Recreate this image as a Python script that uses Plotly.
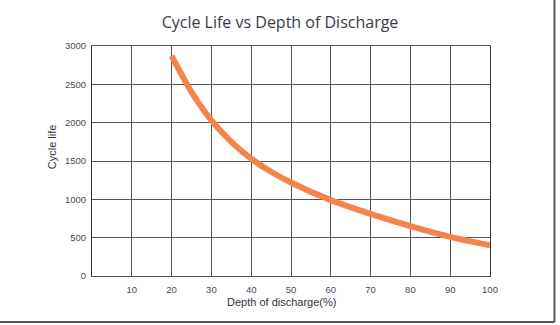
import plotly.graph_objects as go

dod = [20, 25, 30, 35, 40, 45, 50, 60, 70, 80, 90, 100]
cycles = [2870, 2400, 2030, 1750, 1530, 1360, 1220, 990, 810, 650, 510, 400]
x_ticks = [10, 20, 30, 40, 50, 60, 70, 80, 90, 100]
y_ticks = [0, 500, 1000, 1500, 2000, 2500, 3000]

fig = go.Figure()
fig.add_trace(go.Scatter(x=dod, y=cycles, mode="lines",
                         line=dict(color="#F5844A", width=6, shape="spline", smoothing=0.8),
                         hoverinfo="skip"))

axis_font = dict(family="Liberation Sans", size=9.5, color="#4a4a5a")
title_font = dict(family="Liberation Sans", size=11, color="#333340")
fig.update_layout(
    width=560, height=325,
    margin=dict(l=92, r=70, t=46, b=49),
    paper_bgcolor="white", plot_bgcolor="white",
    showlegend=False,
    title=dict(text="Cycle Life vs Depth of Discharge", x=0.5, xanchor="center",
               y=0.93, yanchor="middle",
               font=dict(family="Open Sans", size=16, color="#3a3a48")),
    xaxis=dict(range=[0, 100], tickvals=x_ticks, ticktext=[str(v) for v in x_ticks],
               showgrid=True, gridcolor="#555555", gridwidth=1,
               showline=True, linecolor="#555555", mirror=True, linewidth=1,
               zeroline=False, ticks="outside", ticklen=5, tickcolor="rgba(0,0,0,0)",
               tickfont=axis_font),
    yaxis=dict(range=[0, 3000], tickvals=y_ticks, ticktext=[str(v) for v in y_ticks],
               showgrid=True, gridcolor="#555555", gridwidth=1,
               showline=True, linecolor="#333333", mirror=True, linewidth=1,
               zeroline=False, ticks="outside", ticklen=3, tickcolor="rgba(0,0,0,0)",
               tickfont=axis_font),
    annotations=[
        dict(text="Cycle life", xref="paper", yref="paper", x=-0.1005, y=0.56,
             xanchor="center", yanchor="middle", textangle=-90, showarrow=False,
             font=title_font),
        dict(text="Depth of discharge(%)", xref="paper", yref="paper", x=0.4755, y=-0.113,
             xanchor="center", yanchor="middle", showarrow=False, font=title_font),
    ],
    shapes=[
        dict(type="line", xref="paper", yref="paper", x0=1.162, x1=1.162, y0=1.25, y1=-0.2,
             line=dict(color="#555555", width=2)),
        dict(type="line", xref="paper", yref="paper", x0=-0.3, x1=1.162, y0=-0.2, y1=-0.2,
             line=dict(color="#555555", width=2)),
    ],
)

fig.write_html("out.html")
